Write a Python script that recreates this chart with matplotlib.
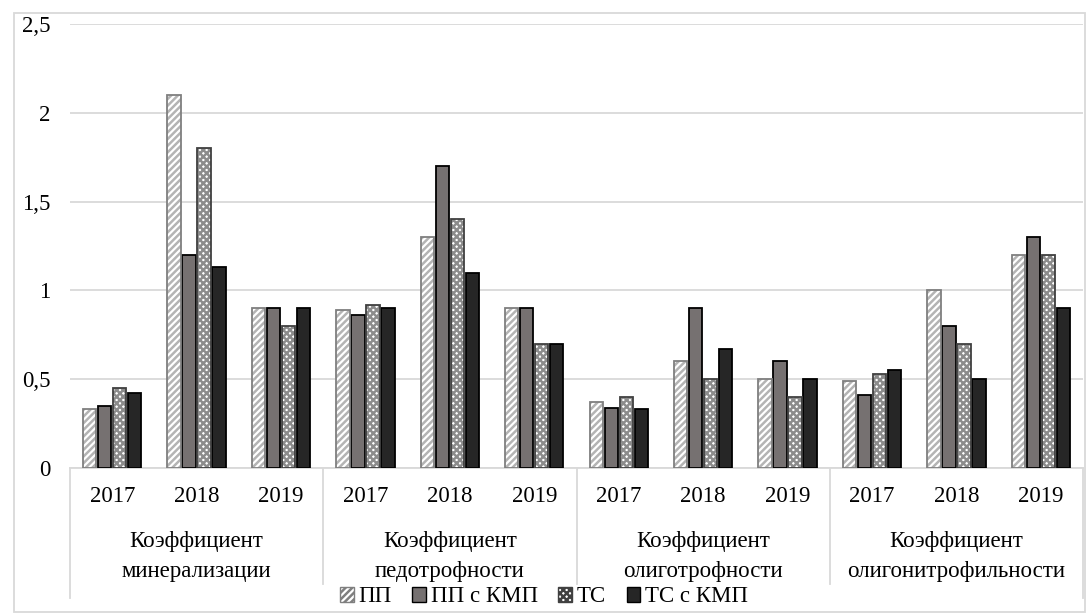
import matplotlib
matplotlib.use("Agg")
import matplotlib.pyplot as plt
from matplotlib.patches import Patch, Rectangle
from matplotlib.lines import Line2D
import numpy as np

plt.rcParams['font.family'] = ['Liberation Serif', 'DejaVu Serif']
plt.rcParams['hatch.linewidth'] = 1.8

# Data
groups = ["Коэффициент\nминерализации", "Коэффициент\nпедотрофности",
          "Коэффициент\nолиготрофности", "Коэффициент\nолигонитрофильности"]
years = ["2017", "2018", "2019"]
series_names = ["ПП", "ПП с КМП", "ТС", "ТС с КМП"]

pp = [0.33, 2.1, 0.9, 0.89, 1.3, 0.9, 0.37, 0.6, 0.5, 0.49, 1.0, 1.2]
pp_kmp = [0.35, 1.2, 0.9, 0.86, 1.7, 0.9, 0.34, 0.9, 0.6, 0.41, 0.8, 1.3]
ts = [0.45, 1.8, 0.8, 0.92, 1.4, 0.7, 0.4, 0.5, 0.4, 0.53, 0.7, 1.2]
ts_kmp = [0.42, 1.13, 0.9, 0.9, 1.1, 0.7, 0.33, 0.67, 0.5, 0.55, 0.5, 0.9]
y_ticks = [0, 0.5, 1, 1.5, 2, 2.5]
y_tick_labels = ["0", "0,5", "1", "1,5", "2", "2,5"]

series = [pp, pp_kmp, ts, ts_kmp]
# (face, hatch, hatch colour, outline)
styles = [
    ("white", "/////", "#b4b4b4", "#7f7f7f"),
    ("#767171", None, None, "#000000"),
    ("white", "xxxxx", "#8c8c8c", "#404040"),
    ("#262626", None, None, "#000000"),
]

FS = 16.5
W, H = 1088, 613
fig = plt.figure(figsize=(W / 100, H / 100), dpi=100)
ax = fig.add_axes([70 / W, 1 - 468 / H, (1083 - 70) / W, (468 - 24) / H])

n = len(pp)
x = np.arange(n) + 0.5
step = 0.178
bw = 0.158
for k, (vals, (fc, hatch, hc, ec)) in enumerate(zip(series, styles)):
    pos = x + (k - 1.5) * step
    if hatch:
        ax.bar(pos, vals, bw, color=fc, edgecolor=hc, hatch=hatch, linewidth=0, zorder=3)
        ax.bar(pos, vals, bw, fill=False, edgecolor=ec, linewidth=1.3, zorder=4)
    else:
        ax.bar(pos, vals, bw, color=fc, edgecolor=ec, linewidth=1.3, zorder=3)

ax.set_xlim(0, n)
ax.set_ylim(0, 2.5)
ax.set_yticks(y_ticks)
ax.set_yticklabels(y_tick_labels, fontsize=FS)
ax.tick_params(axis='y', length=0, pad=14)
ax.set_xticks([])
ax.grid(axis='y', color='#d9d9d9', linewidth=1.3, zorder=0)
for s in ['top', 'right', 'left']:
    ax.spines[s].set_visible(False)
ax.spines['bottom'].set_color('#d9d9d9')
ax.spines['bottom'].set_linewidth(1.3)

tr = ax.get_xaxis_transform()
ah = 468 - 24
for i in range(n):
    ax.text(x[i], -(497 - 468) / ah, years[i % 3], transform=tr,
            ha='center', va='center', fontsize=FS)
for g, name in enumerate(groups):
    l1, l2 = name.split("\n")
    cx = g * 3 + 1.5
    ax.text(cx, -(542 - 468) / ah, l1, transform=tr, ha='center', va='center', fontsize=FS)
    ax.text(cx, -(572 - 468) / ah, l2, transform=tr, ha='center', va='center', fontsize=FS)

for g in range(len(groups) + 1):
    bottom = -(598 - 468) / ah if g in (0, len(groups)) else -(584 - 468) / ah
    ax.add_line(Line2D([g * 3, g * 3], [0, bottom], transform=tr, color='#d9d9d9',
                       linewidth=1.3, clip_on=False))

handles = []
for name, (fc, hatch, hc, ec) in zip(series_names, styles):
    if hatch:
        handles.append(Patch(facecolor=fc, edgecolor=ec, hatch=hatch, linewidth=1, label=name))
    else:
        handles.append(Patch(facecolor=fc, edgecolor=ec, linewidth=1, label=name))
fig.legend(handles=handles, loc='center', bbox_to_anchor=(0.5, 1 - 597 / H), ncol=4,
           frameon=False, fontsize=FS, handlelength=0.6, handleheight=0.6,
           handletextpad=0.2, columnspacing=0.9, borderpad=0)

fig.add_artist(Rectangle((14 / W, 1 / H), (1085 - 14) / W, (612 - 13) / H,
                         transform=fig.transFigure, fill=False, edgecolor='#d9d9d9',
                         linewidth=1.3))

fig.savefig("out.png", dpi=100)
